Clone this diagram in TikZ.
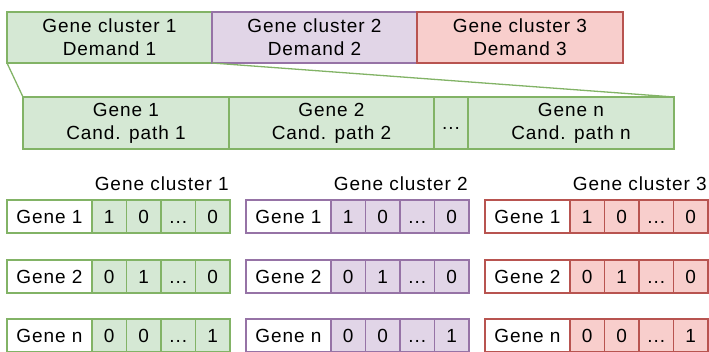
\documentclass[tikz,border=0pt]{standalone}
\usepackage{fontspec}
\setmainfont{Liberation Sans}[LetterSpace=5]
\definecolor{gfill}{HTML}{D5E8D4}\definecolor{gline}{HTML}{82B366}
\definecolor{pfill}{HTML}{E1D5E7}\definecolor{pline}{HTML}{9673A6}
\definecolor{rfill}{HTML}{F8CECC}\definecolor{rline}{HTML}{B85450}
\begin{document}
\begin{tikzpicture}[x=1pt,y=-1pt,
  font=\fontsize{19}{23}\selectfont,
  box/.style={draw, line width=1.3pt, inner sep=0pt, outer sep=0pt, anchor=north west, align=center, text=black},
  gbox/.style={box, fill=gfill, draw=gline},
  pbox/.style={box, fill=pfill, draw=pline},
  rbox/.style={box, fill=rfill, draw=rline},
  wbox/.style={box, fill=white},
  link/.style={draw=gline, line width=1.3pt},
  lbl/.style={anchor=base east, inner sep=0pt, text=black}]
\useasboundingbox (0,0) rectangle (709,351);
% top row
\node[gbox, minimum width=205, minimum height=51] (c1) at (7,12) {Gene cluster 1\\Demand 1};
\node[pbox, minimum width=205, minimum height=51] (c2) at (212,12) {Gene cluster 2\\Demand 2};
\node[rbox, minimum width=206, minimum height=51] (c3) at (417,12) {Gene cluster 3\\Demand 3};
% second row
\node[gbox, minimum width=206, minimum height=52] (g1) at (23,97) {Gene 1\\Cand. path 1};
\node[gbox, minimum width=205, minimum height=52] (g2) at (229,97) {Gene 2\\Cand. path 2};
\node[gbox, minimum width=34, minimum height=52] (gd) at (434,97) {\vphantom{G}...};
\node[gbox, minimum width=206, minimum height=52] (gn) at (468,97) {Gene n\\Cand. path n};
\draw[link] (c1.south west) -- (g1.north west);
\draw[link] (c1.south east) -- (gn.north east);
% bottom tables
\foreach \k/\x/\st/\lc in {1/7/gbox/gline,2/246/pbox/pline,3/485/rbox/rline}{
  \node[lbl] (lab\k) at (\x+222,190) {Gene cluster \k};
  \foreach \r/\y/\g/\a/\b/\d in {1/200/1/1/0/0,2/260/2/0/1/0,3/319/n/0/0/1}{
    \node[wbox, draw=\lc, minimum width=85, minimum height=33] (w\k\r) at (\x,\y) {Gene \g};
    \node[\st, minimum width=34.5, minimum height=33] (a\k\r) at (\x+85,\y) {\a};
    \node[\st, minimum width=34.5, minimum height=33] (b\k\r) at (\x+119.5,\y) {\b};
    \node[\st, minimum width=34.5, minimum height=33] (e\k\r) at (\x+154,\y) {\vphantom{0}...};
    \node[\st, minimum width=34.5, minimum height=33] (d\k\r) at (\x+188.5,\y) {\d};
  }
}
\end{tikzpicture}
\end{document}
